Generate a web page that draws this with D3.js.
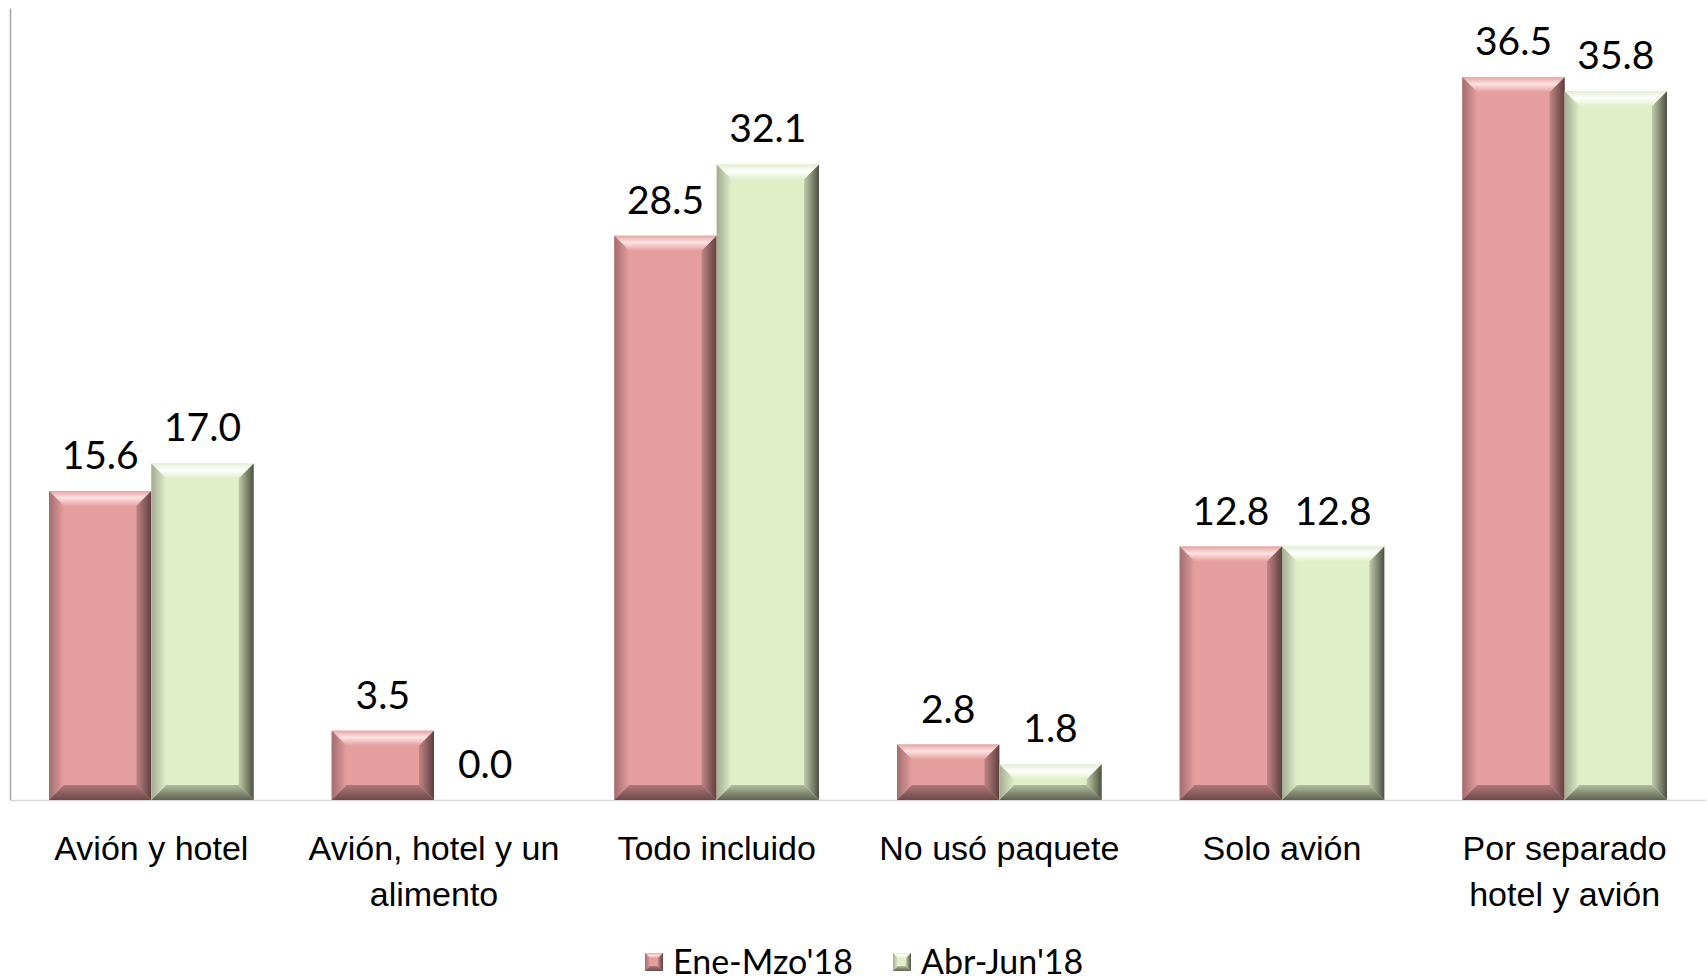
<!DOCTYPE html>
<html><head><meta charset="utf-8">
<script src="https://cdn.jsdelivr.net/npm/d3@7/dist/d3.min.js"></script>
<style>
html,body{margin:0;padding:0;background:#fff;}
svg{display:block;font-family:Lato, "Noto Sans", sans-serif;}
</style></head>
<body><svg id="chart" width="1707" height="980"></svg>
<script>
const categories = ["Avión y hotel", "Avión, hotel y un\nalimento", "Todo incluido", "No usó paquete", "Solo avión", "Por separado\nhotel y avión"];
const seriesNames = ["Ene-Mzo'18", "Abr-Jun'18"];
const eneMzo = [15.6, 3.5, 28.5, 2.8, 12.8, 36.5];
const abrJun = [17.0, 0.0, 32.1, 1.8, 12.8, 35.8];

const W = 1707, H = 980;
const plot = {left: 10, right: 1706, top: 8, bottom: 800};
const svg = d3.select("#chart");

const themes = [
  {main:"#e59e9e", top0:"#e4a6a6", top1:"#fde2e2", left0:"#a26d6d", right0:"#c18585", right1:"#5f3e3e", bot0:"#b07878", bot1:"#6e4848"},
  {main:"#e1efc9", top0:"#e3eed3", top1:"#ffffff", left0:"#a3ab92", right0:"#c2cbab", right1:"#4c5140", bot0:"#b4bc9f", bot1:"#5d6350"}
];
const defs = svg.append("defs");
themes.forEach((t,i)=>{
  const g1 = defs.append("linearGradient").attr("id","top"+i).attr("x1",0).attr("y1",0).attr("x2",0).attr("y2",1);
  g1.append("stop").attr("offset","0%").attr("stop-color",t.top0);
  g1.append("stop").attr("offset","45%").attr("stop-color",t.top1);
  g1.append("stop").attr("offset","100%").attr("stop-color",t.main);
  const g2 = defs.append("linearGradient").attr("id","right"+i).attr("x1",0).attr("y1",0).attr("x2",1).attr("y2",0);
  g2.append("stop").attr("offset","0%").attr("stop-color",t.right0);
  g2.append("stop").attr("offset","100%").attr("stop-color",t.right1);
  const g3 = defs.append("linearGradient").attr("id","left"+i).attr("x1",0).attr("y1",0).attr("x2",1).attr("y2",0);
  g3.append("stop").attr("offset","0%").attr("stop-color",t.left0);
  g3.append("stop").attr("offset","100%").attr("stop-color",t.main);
  const g4 = defs.append("linearGradient").attr("id","bot"+i).attr("x1",0).attr("y1",0).attr("x2",0).attr("y2",1);
  g4.append("stop").attr("offset","0%").attr("stop-color",t.bot0);
  g4.append("stop").attr("offset","100%").attr("stop-color",t.bot1);
});

const x0 = d3.scaleBand().domain(categories).range([plot.left, plot.right]).paddingInner(0.276).paddingOuter(0.138);
const x1 = d3.scaleBand().domain(seriesNames).range([0, x0.bandwidth()]);
const y = d3.scaleLinear().domain([0, 40]).range([plot.bottom, plot.top]);

// axes
const yAxis = svg.append("g").attr("transform",`translate(${plot.left},0)`)
  .call(d3.axisLeft(y).tickValues([]).tickSizeOuter(0));
yAxis.select(".domain").attr("stroke","#a6a6a6").attr("stroke-width",1.5);

const xAxis = svg.append("g").attr("transform",`translate(0,${plot.bottom})`)
  .call(d3.axisBottom(x0).tickSize(0).tickSizeOuter(0).tickFormat(""));
xAxis.select(".domain").attr("stroke","#d9d9d9").attr("stroke-width",1.5);
xAxis.selectAll(".tick").each(function(d){
  const lines = d.split("\n");
  const t = d3.select(this).append("text").attr("fill","#000").attr("font-size",34).attr("text-anchor","middle");
  lines.forEach((ln,i)=> t.append("tspan").attr("x",0).attr("y",60 + i*46).text(ln));
});

const data = [eneMzo, abrJun];
const bev = 15;
data.forEach((vals, si)=>{
  const g = svg.append("g");
  vals.forEach((v, ci)=>{
    const xl = x0(categories[ci]) + x1(seriesNames[si]);
    const bw = x1.bandwidth();
    const yt = y(v), yb = y(0);
    const h = yb - yt;
    if (h > 0.5) {
      const b = Math.min(bev, h/2, bw/2);
      const xr = xl + bw;
      const bar = g.append("g");
      bar.append("rect").attr("x",xl).attr("y",yt).attr("width",bw).attr("height",h).attr("fill",themes[si].main);
      bar.append("path").attr("d",`M${xl},${yt}L${xr},${yt}L${xr-b},${yt+b}L${xl+b},${yt+b}Z`).attr("fill",`url(#top${si})`);
      bar.append("path").attr("d",`M${xl},${yt}L${xl+b},${yt+b}L${xl+b},${yb-b}L${xl},${yb}Z`).attr("fill",`url(#left${si})`);
      bar.append("path").attr("d",`M${xr},${yt}L${xr},${yb}L${xr-b},${yb-b}L${xr-b},${yt+b}Z`).attr("fill",`url(#right${si})`);
      bar.append("path").attr("d",`M${xl},${yb}L${xl+b},${yb-b}L${xr-b},${yb-b}L${xr},${yb}Z`).attr("fill",`url(#bot${si})`);
    }
    g.append("text").attr("x", xl + bw/2).attr("y", yt - 22)
      .attr("text-anchor","middle").attr("font-size",39).attr("fill","#000")
      .text(d3.format(".1f")(v));
  });
});

// legend
const leg = svg.append("g").attr("transform","translate(0,962)");
const legX = [645, 893];
seriesNames.forEach((n,i)=>{
  const s = 18, lx = legX[i], ly = -s/2;
  const t = themes[i], b = 5;
  const gg = leg.append("g");
  gg.append("rect").attr("x",lx).attr("y",ly).attr("width",s).attr("height",s).attr("fill",t.main);
  gg.append("path").attr("d",`M${lx},${ly}L${lx+s},${ly}L${lx+s-b},${ly+b}L${lx+b},${ly+b}Z`).attr("fill",`url(#top${i})`);
  gg.append("path").attr("d",`M${lx},${ly}L${lx+b},${ly+b}L${lx+b},${ly+s-b}L${lx},${ly+s}Z`).attr("fill",`url(#left${i})`);
  gg.append("path").attr("d",`M${lx+s},${ly}L${lx+s},${ly+s}L${lx+s-b},${ly+s-b}L${lx+s-b},${ly+b}Z`).attr("fill",`url(#right${i})`);
  gg.append("path").attr("d",`M${lx},${ly+s}L${lx+b},${ly+s-b}L${lx+s-b},${ly+s-b}L${lx+s},${ly+s}Z`).attr("fill",`url(#bot${i})`);
  leg.append("text").attr("x",lx+s+10).attr("y",0).attr("dy","0.35em").attr("font-size",34).attr("fill","#000").text(n);
});
</script></body></html>
